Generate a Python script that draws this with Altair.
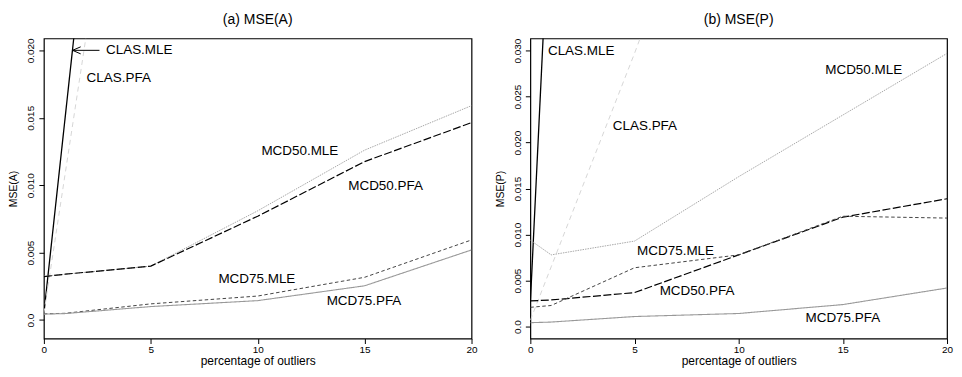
import altair as alt
import pandas as pd

# ---------------- data ----------------
x_pct = [0, 1, 5, 10, 15, 20]

# panel (a) MSE(A)
a_clas_mle = [0.0005, 0.0151, 0.0735, 0.135, 0.195, 0.26]
a_clas_pfa = [0.0005, 0.0109, 0.0525, 0.100, 0.150, 0.200]
a_mcd50_mle = [0.00325, 0.0034, 0.0040, 0.0081, 0.0126, 0.0159]
a_mcd50_pfa = [0.00322, 0.0034, 0.0040, 0.0077, 0.01175, 0.01464]
a_mcd75_mle = [0.00046, 0.0005, 0.0012, 0.00178, 0.00317, 0.00594]
a_mcd75_pfa = [0.00044, 0.00048, 0.0010, 0.00144, 0.00254, 0.0052]

# panel (b) MSE(P)
p_clas_mle = [0.0026, 0.0496, 0.12, 0.2, 0.28, 0.36]
p_clas_pfa = [0.0007, 0.0065, 0.0297, 0.060, 0.090, 0.12]
p_mcd50_mle = [0.0094, 0.0078, 0.0093, 0.0163, 0.0230, 0.0297]
p_mcd50_pfa = [0.0028, 0.0029, 0.0037, 0.0078, 0.0119, 0.0139]
p_mcd75_mle = [0.0021, 0.0023, 0.0064, 0.0078, 0.0120, 0.0118]
p_mcd75_pfa = [0.00043, 0.0005, 0.0011, 0.00143, 0.0024, 0.0042]

series_names = ["CLAS.MLE", "CLAS.PFA", "MCD50.MLE", "MCD50.PFA", "MCD75.MLE", "MCD75.PFA"]

# label positions (data coords)
a_label_x = [4.46, 3.5, 11.97, 15.98, 9.96, 14.97]
a_label_y = [0.0200, 0.01798, 0.01253, 0.00997, 0.00303, 0.00144]
p_label_x = [2.44, 5.5, 16.0, 8.0, 6.97, 15.0]
p_label_y = [0.0300, 0.0218, 0.0279, 0.0039, 0.00826, 0.00093]

# arrow annotation in panel (a): shaft and head segments
arrow_x = [2.6, 1.34, 1.34]
arrow_x2 = [1.34, 1.72, 1.72]
arrow_y = [0.0200, 0.0200, 0.0200]
arrow_y2 = [0.0200, 0.02026, 0.01974]

styles = {
    "CLAS.MLE": dict(color="#000000", dash=[1, 0], width=1.3),
    "CLAS.PFA": dict(color="#d6d6d6", dash=[5, 4], width=1.0),
    "MCD50.MLE": dict(color="#a8a8a8", dash=[1.5, 1], width=1.0),
    "MCD50.PFA": dict(color="#000000", dash=[8, 2.5], width=1.2),
    "MCD75.MLE": dict(color="#444444", dash=[3.5, 2.5], width=1.0),
    "MCD75.PFA": dict(color="#999999", dash=[1, 0], width=1.1),
}

FONT = "Liberation Sans"


def long_df(vals):
    rows = []
    for name, ys in zip(series_names, vals):
        for x, y in zip(x_pct, ys):
            rows.append({"series": name, "x": x, "y": y})
    return pd.DataFrame(rows)


def panel(vals, lab_x, lab_y, ydom, yticks, ytitle, title, width, arrow=False):
    df = long_df(vals)
    xs = alt.Scale(domain=[0, 20], nice=False, zero=False)
    ys = alt.Scale(domain=ydom, nice=False, zero=False)
    xaxis = alt.Axis(values=[0, 5, 10, 15, 20], title="percentage of outliers",
                     labelFlush=False)
    yaxis = alt.Axis(values=yticks, title=ytitle,
                     labelExpr="datum.value == 0 ? '0.0' : format(datum.value, '.3f')")
    layers = []
    for name in series_names:
        st = styles[name]
        ln = alt.Chart(df).transform_filter(alt.datum.series == name).mark_line(
            color=st["color"], strokeDash=st["dash"], strokeWidth=st["width"], clip=True
        ).encode(
            x=alt.X("x:Q", scale=xs, axis=xaxis),
            y=alt.Y("y:Q", scale=ys, axis=yaxis),
        )
        layers.append(ln)
    ldf = pd.DataFrame({"label": series_names, "lx": lab_x, "ly": lab_y})
    txt = alt.Chart(ldf).mark_text(font=FONT, fontSize=13.5, color="#000000",
                                   align="center", baseline="middle").encode(
        x=alt.X("lx:Q", scale=xs, axis=xaxis), y=alt.Y("ly:Q", scale=ys, axis=yaxis),
        text="label:N")
    layers.append(txt)
    if arrow:
        adf = pd.DataFrame({"x": arrow_x, "x2": arrow_x2, "y": arrow_y, "y2": arrow_y2})
        ar = alt.Chart(adf).mark_rule(color="#000000", strokeWidth=1).encode(
            x=alt.X("x:Q", scale=xs, axis=xaxis), x2="x2:Q",
            y=alt.Y("y:Q", scale=ys, axis=yaxis), y2="y2:Q")
        layers.append(ar)
    return alt.layer(*layers).properties(
        width=width, height=301,
        title=alt.TitleParams(title, fontSize=14, font=FONT, fontWeight="normal",
                              anchor="middle", offset=11, color="#000000"),
    )


left = panel([a_clas_mle, a_clas_pfa, a_mcd50_mle, a_mcd50_pfa, a_mcd75_mle, a_mcd75_pfa],
             a_label_x, a_label_y, [-0.00137, 0.02088],
             [0, 0.005, 0.010, 0.015, 0.020], "MSE(A)", "(a) MSE(A)", 429, arrow=True)
right = panel([p_clas_mle, p_clas_pfa, p_mcd50_mle, p_mcd50_pfa, p_mcd75_mle, p_mcd75_pfa],
              p_label_x, p_label_y, [-0.00129, 0.03132],
              [0, 0.005, 0.010, 0.015, 0.020, 0.025, 0.030], "MSE(P)", "(b) MSE(P)", 418)

chart = alt.hconcat(left, right, spacing=16).properties(
    padding={"left": 0, "top": 3, "right": 0, "bottom": 0}
).configure_view(
    stroke="#000000", strokeWidth=1.2
).configure_axis(
    grid=False, domain=False, tickColor="#000000", tickSize=5, tickWidth=1,
    labelFont=FONT, titleFont=FONT, labelColor="#000000", titleColor="#000000",
    labelFontSize=10, titleFontWeight="normal",
).configure_axisY(
    labelAngle=270, labelAlign="center", labelBaseline="bottom", labelPadding=3,
    titleFontSize=10.5, titlePadding=7,
).configure_axisX(
    labelPadding=1, titleFontSize=12, titlePadding=1,
)

chart.save("out.html", embed_options={"renderer": "svg", "actions": False})
